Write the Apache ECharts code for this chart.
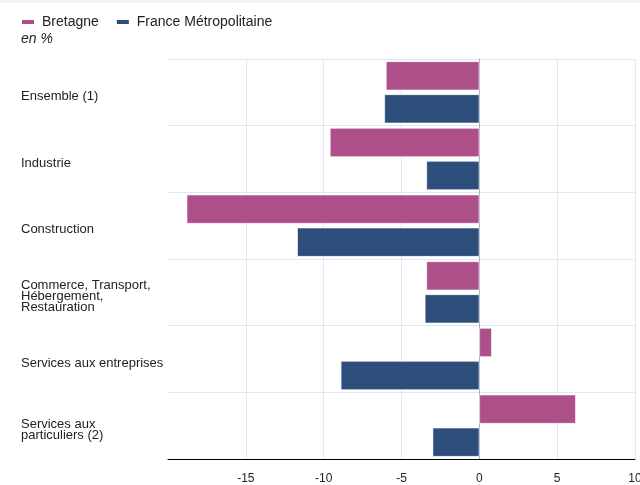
<!DOCTYPE html>
<html>
<head>
<meta charset="utf-8">
<script src="https://cdn.jsdelivr.net/npm/echarts@6/dist/echarts.min.js"></script>
<style>
    html, body { margin: 0; padding: 0; background: #fff; }
    #chart { width: 640px; height: 485px; }
</style>
</head>
<body>
<div id="chart"></div>
<script>
    // secteurs
    var categories = [
        'Ensemble (1)',
        'Industrie',
        'Construction',
        'Commerce, Transport,\nHébergement,\nRestauration',
        'Services aux entreprises',
        'Services aux\nparticuliers (2)'
    ];
    // evolution en %
    var bretagne = [-6.0, -9.6, -18.8, -3.4, 0.8, 6.2];
    var france = [-6.1, -3.4, -11.7, -3.5, -8.9, -3.0];
    var xTicks = { min: -20, max: 10, step: 5 };

    var font = 'Liberation Sans';
    var gridColor = '#dce8f6';

    var option = {
        backgroundColor: '#fff',
        animation: false,
        textStyle: { fontFamily: font },
        graphic: [
            { type: 'rect', left: 0, top: 0, shape: { width: 640, height: 3 }, style: { fill: '#eef5fc' } },
            { type: 'text', left: 21, top: 32, style: { text: 'en %', fontFamily: font, fontSize: 14, fontStyle: 'italic', fill: '#222' } }
        ],
        legend: {
            left: 17,
            top: 10,
            itemWidth: 12,
            itemHeight: 4,
            itemGap: 18,
            icon: 'rect',
            itemStyle: { borderWidth: 0 },
            textStyle: { fontFamily: font, fontSize: 14, color: '#222', padding: [0, 0, 0, 3] },
            data: ['Bretagne', 'France Métropolitaine']
        },
        grid: { left: 168, right: 5, top: 59, bottom: 26, containLabel: false, outerBoundsMode: 'none' },
        xAxis: {
            type: 'value',
            min: xTicks.min,
            max: xTicks.max,
            interval: xTicks.step,
            axisLine: { show: true, lineStyle: { color: '#000', width: 1 } },
            axisTick: { show: false },
            axisLabel: { showMinLabel: false, margin: 14, fontFamily: font, fontSize: 12, color: '#222' },
            splitLine: { show: true, showMinLine: false, lineStyle: { color: gridColor, width: 1 } }
        },
        yAxis: {
            type: 'category',
            inverse: true,
            data: categories,
            axisLine: { show: true, onZero: true, lineStyle: { color: '#a9b1bb', width: 1 } },
            axisTick: { show: false },
            axisLabel: {
                align: 'left',
                margin: 147,
                fontFamily: font,
                fontSize: 13,
                lineHeight: 11,
                color: '#222',
                // empty first line pushes the label a little below the band centre
                formatter: function (value) {
                    return '{s| }\n' + value;
                },
                rich: { s: { lineHeight: 8, fontSize: 1 } }
            },
            splitLine: { show: true, lineStyle: { color: gridColor, width: 1 } }
        },
        series: [
            {
                name: 'Bretagne',
                type: 'bar',
                data: bretagne,
                barCategoryGap: '7%',
                barGap: '14%',
                itemStyle: { color: '#ad5089', borderColor: '#fff', borderWidth: 0.6 }
            },
            {
                name: 'France Métropolitaine',
                type: 'bar',
                data: france,
                barCategoryGap: '7%',
                barGap: '14%',
                itemStyle: { color: '#2d4e7b', borderColor: '#fff', borderWidth: 0.6 }
            }
        ]
    };

    var myChart = echarts.init(document.getElementById('chart'), null, { renderer: 'canvas' });
    myChart.setOption(option);
</script>
</body>
</html>
